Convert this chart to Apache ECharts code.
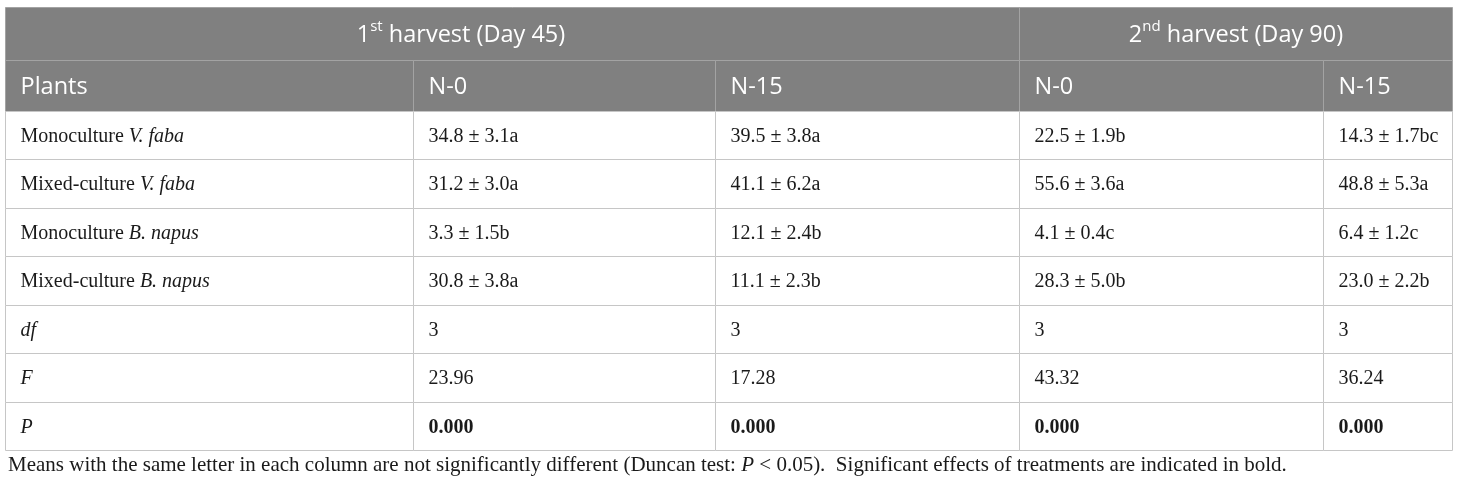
<!DOCTYPE html>
<html>
<head>
<meta charset="utf-8">
<script src="https://cdn.jsdelivr.net/npm/echarts@6/dist/echarts.min.js"></script>
<style>
  html, body { margin: 0; padding: 0; background: #fff; }
  #main { width: 1460px; height: 487px; }
</style>
</head>
<body>
<div id="main"></div>
<script>
// table content
var harvestNum = ['1', '2'];
var harvestOrd = ['st', 'nd'];
var harvestDay = [45, 90];
var treatments = ['N-0', 'N-15', 'N-0', 'N-15'];
var culture = ['Monoculture', 'Mixed-culture', 'Monoculture', 'Mixed-culture'];
var species = ['V. faba', 'V. faba', 'B. napus', 'B. napus'];
// one array per column: day45 N-0, day45 N-15, day90 N-0, day90 N-15
var means = [[34.8, 31.2, 3.3, 30.8], [39.5, 41.1, 12.1, 11.1], [22.5, 55.6, 4.1, 28.3], [14.3, 48.8, 6.4, 23.0]];
var sds = [[3.1, 3.0, 1.5, 3.8], [3.8, 6.2, 2.4, 2.3], [1.9, 3.6, 0.4, 5.0], [1.7, 5.3, 1.2, 2.2]];
var letters = [['a', 'a', 'b', 'a'], ['a', 'a', 'b', 'b'], ['b', 'a', 'c', 'b'], ['bc', 'a', 'c', 'b']];
var dfVals = [3, 3, 3, 3];
var fVals = [23.96, 17.28, 43.32, 36.24];
var pVals = [0.000, 0.000, 0.000, 0.000];
var statNames = ['df', 'F', 'P'];
var footnote = ['Means with the same letter in each column are not significantly different (Duncan test: ', 'P', ' < 0.05).  Significant effects of treatments are indicated in bold.'];

// layout (axis units = px inside the grid)
var colEdges = [0, 408, 710, 1014, 1318, 1447];
var bodyRowH = 48.43;
var rowEdges = [0, 53, 104];
for (var k = 1; k <= 7; k++) rowEdges.push(104 + k * bodyRowH);

var cells = [];
function addCell(c0, c1, r0, r1, text, kind, align, textX) {
  cells.push({ value: [colEdges[c0], colEdges[c1], rowEdges[r0], rowEdges[r1]], text: text, kind: kind, align: align, textX: textX });
}

// header row 1
addCell(0, 3, 0, 1, '{h|' + harvestNum[0] + '}{sup|' + harvestOrd[0] + '}{h| harvest (Day ' + harvestDay[0] + ')}', 'head', 'center', 456);
addCell(3, 5, 0, 1, '{h|' + harvestNum[1] + '}{sup|' + harvestOrd[1] + '}{h| harvest (Day ' + harvestDay[1] + ')}', 'head', 'center');
// header row 2
addCell(0, 1, 1, 2, '{h|Plants}', 'head', 'left');
for (var c = 0; c < treatments.length; c++) {
  addCell(c + 1, c + 2, 1, 2, '{h|' + treatments[c] + '}', 'head', 'left');
}
// body rows
for (var r = 0; r < culture.length; r++) {
  addCell(0, 1, r + 2, r + 3, '{r|' + culture[r] + ' }{i|' + species[r] + '}', 'body', 'left');
  for (var c = 0; c < means.length; c++) {
    var txt = means[c][r].toFixed(1) + ' ± ' + sds[c][r].toFixed(1) + letters[c][r];
    addCell(c + 1, c + 2, r + 2, r + 3, '{r|' + txt + '}', 'body', 'left');
  }
}
var statRows = [
  dfVals.map(function (v) { return '{r|' + v + '}'; }),
  fVals.map(function (v) { return '{r|' + v.toFixed(2) + '}'; }),
  pVals.map(function (v) { return '{b|' + v.toFixed(3) + '}'; })
];
for (var s = 0; s < statNames.length; s++) {
  addCell(0, 1, s + 6, s + 7, '{i|' + statNames[s] + '}', 'body', 'left');
  for (var c = 0; c < statRows[s].length; c++) {
    addCell(c + 1, c + 2, s + 6, s + 7, statRows[s][c], 'body', 'left');
  }
}

var serifRich = {
  r: { fontFamily: 'Liberation Serif', fontSize: 20, fill: '#1a1a1a' },
  i: { fontFamily: 'Liberation Serif', fontSize: 20, fontStyle: 'italic', fill: '#1a1a1a' },
  b: { fontFamily: 'Liberation Serif', fontSize: 20, fontWeight: 'bold', fill: '#1a1a1a' }
};
var headRich = {
  h: { fontFamily: 'Open Sans', fontSize: 23.5, lineHeight: 32, fill: '#ffffff' },
  sup: { fontFamily: 'Open Sans', fontSize: 15, lineHeight: 15, verticalAlign: 'top', fill: '#ffffff' }
};

function renderCell(params, api) {
  var cell = cells[params.dataIndex];
  var p0 = api.coord([api.value(0), api.value(2)]);
  var p1 = api.coord([api.value(1), api.value(3)]);
  var x = Math.round(p0[0]) + 0.5, y = Math.round(p0[1]) + 0.5;
  var w = Math.round(p1[0]) - Math.round(p0[0]), h = Math.round(p1[1]) - Math.round(p0[1]);
  var head = cell.kind === 'head';
  var tx;
  if (cell.textX != null) tx = api.coord([cell.textX, 0])[0];
  else if (cell.align === 'center') tx = x + w / 2;
  else tx = x + 15;
  return {
    type: 'group',
    children: [
      {
        type: 'rect',
        shape: { x: x, y: y, width: w, height: h },
        style: { fill: head ? '#808080' : '#ffffff', stroke: head ? '#a3a3a3' : '#c6c6c6', lineWidth: 1 }
      },
      {
        type: 'text',
        style: {
          x: tx,
          y: y + h / 2 + 1,
          text: cell.text,
          rich: head ? headRich : serifRich,
          align: cell.align,
          verticalAlign: 'middle'
        }
      }
    ]
  };
}

var chart = echarts.init(document.getElementById('main'), null, { renderer: 'canvas' });
chart.setOption({
  backgroundColor: '#ffffff',
  animation: false,
  title: {
    text: '{r|' + footnote[0] + '}{i|' + footnote[1] + '}{r|' + footnote[2] + '}',
    left: 3,
    top: 450,
    textStyle: {
      fontWeight: 'normal',
      rich: {
        r: { fontFamily: 'Liberation Serif', fontSize: 21, fontWeight: 'normal', color: '#1a1a1a' },
        i: { fontFamily: 'Liberation Serif', fontSize: 21, fontWeight: 'normal', fontStyle: 'italic', color: '#1a1a1a' }
      }
    }
  },
  grid: { left: 5, top: 7, width: 1447, height: 443 },
  xAxis: { type: 'value', min: 0, max: 1447, show: false },
  yAxis: { type: 'value', min: 0, max: 443, inverse: true, show: false },
  series: [{
    type: 'custom',
    renderItem: renderCell,
    encode: { x: [0, 1], y: [2, 3] },
    data: cells.map(function (c) { return c.value; }),
    silent: true
  }]
});
</script>
</body>
</html>
